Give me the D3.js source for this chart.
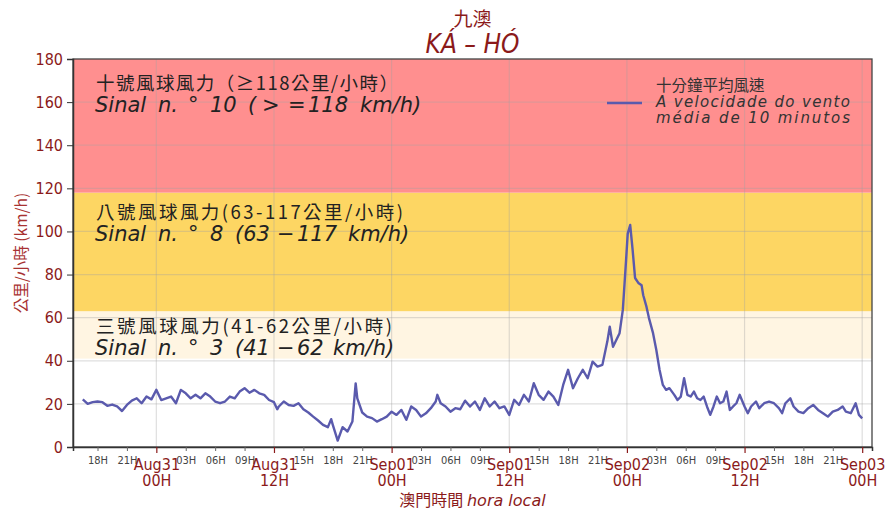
<!DOCTYPE html>
<html>
<head>
<meta charset="utf-8">
<script src="https://cdn.jsdelivr.net/npm/d3@7"></script>
<style>
  body { margin: 0; background: #fff; }
  text { white-space: pre; }
</style>
</head>
<body>
<script>
// 10-minute mean wind speed, Ká-Hó (local time, 2023)
var times = [
  "08-30 16:30","08-30 17:00","08-30 17:30","08-30 18:00","08-30 18:30","08-30 19:00","08-30 19:30","08-30 20:00",
  "08-30 20:30","08-30 21:00","08-30 21:30","08-30 22:00","08-30 22:30","08-30 23:00","08-30 23:30",
  "08-31 00:00","08-31 00:30","08-31 01:00","08-31 01:30","08-31 02:00","08-31 02:30","08-31 03:00","08-31 03:30",
  "08-31 04:00","08-31 04:30","08-31 05:00","08-31 05:30","08-31 06:00","08-31 06:30","08-31 07:00","08-31 07:30",
  "08-31 08:00","08-31 08:30","08-31 09:00","08-31 09:30","08-31 10:00","08-31 10:30","08-31 11:00","08-31 11:30",
  "08-31 12:00","08-31 12:20","08-31 12:30","08-31 13:00","08-31 13:30","08-31 14:00","08-31 14:30","08-31 15:00",
  "08-31 15:30","08-31 16:00","08-31 16:30","08-31 17:00","08-31 17:30","08-31 17:50","08-31 18:00","08-31 18:30",
  "08-31 19:00","08-31 19:30","08-31 20:00","08-31 20:20","08-31 20:30","08-31 21:00","08-31 21:30","08-31 22:00",
  "08-31 22:30","08-31 23:00","08-31 23:30",
  "09-01 00:00","09-01 00:30","09-01 01:00","09-01 01:30","09-01 02:00","09-01 02:30","09-01 03:00","09-01 03:30",
  "09-01 04:00","09-01 04:30","09-01 04:40","09-01 05:00","09-01 05:30","09-01 06:00","09-01 06:30","09-01 07:00",
  "09-01 07:30","09-01 08:00","09-01 08:30","09-01 09:00","09-01 09:30","09-01 10:00","09-01 10:30","09-01 11:00",
  "09-01 11:30","09-01 12:00","09-01 12:30","09-01 13:00","09-01 13:30","09-01 14:00","09-01 14:30","09-01 15:00",
  "09-01 15:30","09-01 16:00","09-01 16:30","09-01 17:00","09-01 17:30","09-01 18:00","09-01 18:30","09-01 19:00",
  "09-01 19:30","09-01 20:00","09-01 20:30","09-01 21:00","09-01 21:30","09-01 22:00","09-01 22:15","09-01 22:35",
  "09-01 22:55","09-01 23:15","09-01 23:35","09-01 23:55",
  "09-02 00:05","09-02 00:20","09-02 00:35","09-02 00:50","09-02 01:10","09-02 01:30","09-02 01:40","09-02 02:00",
  "09-02 02:15","09-02 02:40","09-02 03:00","09-02 03:20","09-02 03:40","09-02 04:00","09-02 04:20","09-02 04:50",
  "09-02 05:10","09-02 05:30","09-02 05:50","09-02 06:10","09-02 06:30","09-02 06:50","09-02 07:10","09-02 07:30",
  "09-02 07:50","09-02 08:10","09-02 08:30","09-02 08:50","09-02 09:10","09-02 09:30","09-02 09:50","09-02 10:10",
  "09-02 10:30","09-02 10:50","09-02 11:10","09-02 11:30","09-02 12:00","09-02 12:20","09-02 12:40","09-02 13:10",
  "09-02 13:30","09-02 14:00","09-02 14:30","09-02 15:00","09-02 15:30","09-02 15:50","09-02 16:10","09-02 16:40",
  "09-02 17:00","09-02 17:30","09-02 18:00","09-02 18:30","09-02 19:00","09-02 19:30","09-02 20:00","09-02 20:30",
  "09-02 21:00","09-02 21:30","09-02 22:00","09-02 22:20","09-02 22:50","09-02 23:20","09-02 23:40",
  "09-03 00:00"
];
var speeds = [
  22.1,20.0,20.8,21.1,20.8,19.1,19.7,18.8,
  16.7,19.5,21.5,22.6,20.3,23.4,22.1,
  26.5,21.8,22.6,23.4,20.3,26.5,24.9,22.6,
  24.2,22.6,24.9,23.4,21.1,20.3,21.1,23.4,
  22.6,25.7,27.3,25.2,26.5,24.9,24.2,21.8,
  20.8,17.5,18.8,21.1,19.5,19.1,20.3,17.5,
  16.0,14.1,12.3,10.3,9.2,12.9,10.3,3.0,
  9.2,7.2,11.8,29.5,22.6,16.0,14.1,13.4,
  11.8,12.9,14.1,
  16.4,14.9,17.2,12.6,18.8,17.2,14.1,15.6,
  18.0,21.1,24.2,20.3,18.8,16.4,18.0,17.5,
  21.5,18.8,21.1,17.2,22.6,18.8,21.1,18.0,
  18.8,14.9,21.9,19.5,24.2,21.1,29.6,24.2,
  21.9,25.7,23.4,19.5,28.8,35.8,27.3,31.9,
  35.8,31.9,39.6,37.3,38.1,48.9,55.8,46.5,
  49.6,52.8,63.6,86.8,
  99.0,103.0,91.4,78.4,76.1,75.0,70.4,65.0,
  59.8,52.8,45.0,35.7,28.8,26.5,27.3,24.2,
  21.8,23.4,31.9,24.2,23.4,25.7,22.6,21.8,
  23.4,18.8,14.9,18.8,23.4,20.3,21.1,25.7,
  17.2,18.8,20.3,24.2,18.8,15.7,18.8,21.1,
  18.0,20.3,21.1,20.3,18.0,15.7,20.3,22.6,
  18.8,16.4,15.7,18.0,19.5,17.2,15.7,14.1,
  16.4,17.2,18.8,16.4,15.7,20.3,14.9,
  13.3
];

// signal bands
var bandLow = [41, 63, 118];
var bandHigh = [63, 118, 180];
var bandColors = ["#fff5e2", "#fdd663", "#ff8f8f"];
var bandZh = ["三號風球風力(41-62公里/小時)", "八號風球風力(63-117公里/小時)", "十號風球風力（≥118公里/小時）"];
var bandZhLen = [296, 307, 302];
var bandPt = [
  ["Sinal", "n.", "°", "3", "(41", "−", "62", "km/h)"],
  ["Sinal", "n.", "°", "8", "(63", "−", "117", "km/h)"],
  ["Sinal", "n.", "°", "10", "(", ">", "=", "118", "km/h)"]
];
var bandPtDx = [
  [0, 63, 93, 115, 140, 182, 202, 238],
  [0, 63, 93, 115, 140, 182, 202, 253],
  [0, 63, 93, 115, 153, 167, 193, 213, 265]
];
var bandLabelAt = [52.9, 106, 165.4];

var yTicks = [0, 20, 40, 60, 80, 100, 120, 140, 160, 180];

var legendZh = "十分鐘平均風速";
var legendPt = ["A velocidade do vento", "média de 10 minutos"];

var W = 892, H = 514;
var pL = 73, pR = 872, pT = 59, pB = 447;
var darkRed = "#8b1a1a";
var narrow = "'Liberation Sans Narrow', 'DejaVu Sans Condensed', sans-serif";
var cjk = "'Noto Sans CJK TC', 'Noto Sans CJK SC', sans-serif";

var parse = d3.timeParse("%Y-%m-%d %H:%M");
var data = times.map(function(t, i) { return {t: parse("2023-" + t), v: speeds[i]}; });

var x = d3.scaleTime()
  .domain([parse("2023-08-30 15:30"), parse("2023-09-03 01:00")])
  .range([pL, pR]);
var y = d3.scaleLinear().domain([0, 180]).range([pB, pT]);

var svg = d3.select("body").append("svg")
  .attr("width", W)
  .attr("height", H);

// bands
svg.selectAll("rect.band")
  .data(bandLow)
  .enter()
  .append("rect")
    .attr("class", "band")
    .attr("x", pL)
    .attr("width", pR - pL)
    .attr("y", function(d, i) { return y(bandHigh[i]); })
    .attr("height", function(d, i) { return y(d) - y(bandHigh[i]); })
    .style("fill", function(d, i) { return bandColors[i]; });

// grid
var majorTicks = x.ticks(d3.timeHour.every(12));
var minorTicks = x.ticks(d3.timeHour.every(3)).filter(function(d) { return d.getHours() % 12 != 0; });

svg.append("g")
  .selectAll("line")
  .data(yTicks.slice(1, -1))
  .enter()
  .append("line")
    .attr("x1", pL).attr("x2", pR)
    .attr("y1", function(d) { return y(d); })
    .attr("y2", function(d) { return y(d); })
    .style("stroke", "#a0a0a0")
    .style("stroke-opacity", 0.35)
    .style("stroke-width", 1.2);

svg.append("g")
  .selectAll("line")
  .data(majorTicks)
  .enter()
  .append("line")
    .attr("x1", function(d) { return x(d); })
    .attr("x2", function(d) { return x(d); })
    .attr("y1", pT).attr("y2", pB)
    .style("stroke", "#a0a0a0")
    .style("stroke-opacity", 0.35)
    .style("stroke-width", 1.2);

// band labels
bandZh.forEach(function(s, i) {
  var by = y(bandLabelAt[i]);
  svg.append("text")
    .attr("x", 96)
    .attr("y", by)
    .attr("textLength", bandZhLen[i])
    .attr("lengthAdjust", "spacing")
    .style("font-family", cjk)
    .style("font-size", "18.5px")
    .style("fill", "#222")
    .text(s);
  var t = svg.append("text")
    .attr("y", by + 22)
    .style("font-family", "'DejaVu Sans', sans-serif")
    .style("font-style", "italic")
    .style("font-size", "21px")
    .style("fill", "#222");
  bandPt[i].forEach(function(p, j) {
    t.append("tspan").attr("x", 95 + bandPtDx[i][j]).text(p);
  });
});

// line
var line = d3.line()
  .x(function(d) { return x(d.t); })
  .y(function(d) { return y(d.v); });

svg.append("path")
  .datum(data)
  .attr("d", line)
  .style("fill", "none")
  .style("stroke", "#5a5aad")
  .style("stroke-width", 2.4)
  .style("stroke-linejoin", "round");

// frame
svg.append("rect")
  .attr("x", pL).attr("y", pT)
  .attr("width", pR - pL).attr("height", pB - pT)
  .style("fill", "none")
  .style("stroke", "#444")
  .style("stroke-width", 1.3);

// y axis
var yAxis = svg.append("g")
  .attr("transform", "translate(" + pL + ",0)")
  .call(d3.axisLeft(y).tickValues(yTicks).tickSize(6).tickPadding(4));
yAxis.select(".domain").style("stroke", "#333").style("stroke-width", 1.5);
yAxis.selectAll(".tick line").style("stroke", "#333");
yAxis.selectAll("text")
  .style("font-family", narrow)
  .style("font-size", "16px")
  .style("fill", darkRed);

svg.append("text")
  .attr("transform", "translate(27," + ((pT + pB) / 2) + ") rotate(-90)")
  .style("text-anchor", "middle")
  .style("font-family", cjk)
  .style("font-size", "15.5px")
  .style("fill", "#a83232")
  .text("公里/小時 (km/h)");

// x axis, minor
var xMinor = svg.append("g")
  .attr("transform", "translate(0," + pB + ")")
  .call(d3.axisBottom(x).tickValues(minorTicks).tickSize(4).tickPadding(5)
    .tickFormat(d3.timeFormat("%HH")));
xMinor.select(".domain").style("stroke", "#333").style("stroke-width", 1.5);
xMinor.selectAll(".tick line").style("stroke", "#666");
xMinor.selectAll("text")
  .style("font-family", narrow)
  .style("font-size", "11px")
  .style("fill", "#444");

// x axis, major
var xMajor = svg.append("g")
  .attr("transform", "translate(0," + pB + ")")
  .call(d3.axisBottom(x).tickValues(majorTicks).tickSize(6).tickFormat(""));
xMajor.select(".domain").remove();
xMajor.selectAll(".tick line").style("stroke", darkRed).style("stroke-width", 1.2);
xMajor.selectAll(".tick").append("text")
  .attr("y", 23)
  .style("text-anchor", "middle")
  .style("font-family", narrow)
  .style("font-size", "16px")
  .style("fill", darkRed)
  .text(d3.timeFormat("%b%d"));
xMajor.selectAll(".tick").append("text")
  .attr("y", 39)
  .style("text-anchor", "middle")
  .style("font-family", narrow)
  .style("font-size", "16px")
  .style("fill", darkRed)
  .text(d3.timeFormat("%HH"));

// x title
var xt = svg.append("text")
  .attr("x", (pL + pR) / 2)
  .attr("y", 506)
  .style("text-anchor", "middle")
  .style("fill", darkRed)
  .style("font-size", "16px");
xt.append("tspan").style("font-family", cjk).text("澳門時間 ");
xt.append("tspan").style("font-family", "'DejaVu Sans', sans-serif").style("font-style", "italic").text("hora local");

// title
svg.append("text")
  .attr("x", (pL + pR) / 2)
  .attr("y", 26)
  .style("text-anchor", "middle")
  .style("font-family", cjk)
  .style("font-size", "19px")
  .style("fill", darkRed)
  .text("九澳");
svg.append("text")
  .attr("x", (pL + pR) / 2)
  .attr("y", 53)
  .style("text-anchor", "middle")
  .style("font-family", narrow)
  .style("font-style", "italic")
  .style("font-size", "26px")
  .style("fill", darkRed)
  .text("KÁ – HÓ");

// legend
svg.append("line")
  .attr("x1", 607).attr("x2", 642)
  .attr("y1", 103).attr("y2", 103)
  .style("stroke", "#5a5aad")
  .style("stroke-width", 2.4);
svg.append("text")
  .attr("x", 656)
  .attr("y", 91)
  .style("font-family", cjk)
  .style("font-size", "15.5px")
  .style("fill", "#333")
  .text(legendZh);
svg.selectAll("text.legpt")
  .data(legendPt)
  .enter()
  .append("text")
    .attr("class", "legpt")
    .attr("x", 656)
    .attr("y", function(d, i) { return 107 + i * 16; })
    .attr("textLength", 194)
    .attr("lengthAdjust", "spacing")
    .style("font-family", "'DejaVu Sans', sans-serif")
    .style("font-style", "italic")
    .style("font-size", "15px")
    .style("fill", "#333")
    .text(function(d) { return d; });
</script>
</body>
</html>
